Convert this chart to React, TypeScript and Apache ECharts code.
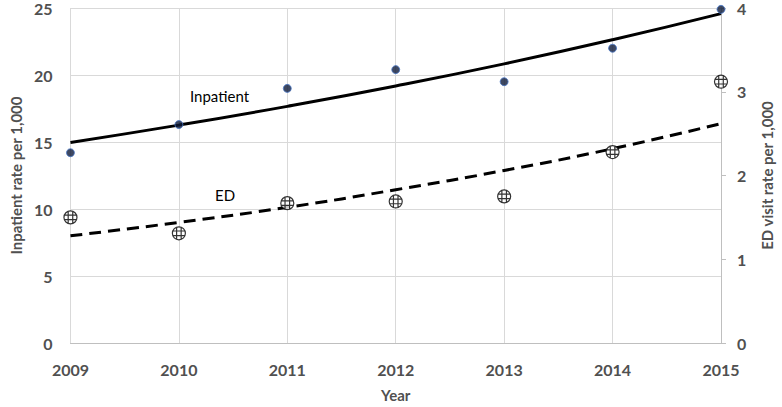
import React, { useEffect, useRef } from "react";
import * as echarts from "echarts";

const years = ["2009", "2010", "2011", "2012", "2013", "2014", "2015"];
const inpatientRate = [14.2, 16.3, 19.0, 20.4, 19.5, 22.0, 24.9];
const edRate = [1.5, 1.31, 1.67, 1.69, 1.75, 2.28, 3.12];
const inpatientTrend = [14.97, 16.26, 17.66, 19.18, 20.83, 22.63, 24.58];
const edTrend = [1.28, 1.44, 1.62, 1.83, 2.06, 2.32, 2.62];
const leftTicks = [0, 5, 10, 15, 20, 25];
const rightTicks = [0, 1, 2, 3, 4];

const hatchSymbol =
  "path://M0,10 A10,10 0 1,1 20,10 A10,10 0 1,1 0,10 Z M6.5,0.8 L6.5,19.2 M13.5,0.8 L13.5,19.2 M0.8,6.5 L19.2,6.5 M0.8,13.5 L19.2,13.5";

const FONT = "Lato, 'Open Sans', sans-serif";
const LABEL = "#505050";

export default function App() {
  const ref = useRef<HTMLDivElement>(null);
  useEffect(() => {
    if (!ref.current) return;
    const chart = echarts.init(ref.current, undefined, { renderer: "svg" });
    chart.setOption({
      animation: false,
      backgroundColor: "#ffffff",
      textStyle: { fontFamily: FONT },
      grid: { left: 58, right: 52, top: 7, bottom: 59, containLabel: false },
      xAxis: {
        type: "category",
        data: years,
        boundaryGap: false,
        name: "Year",
        nameLocation: "middle",
        nameGap: 44,
        nameTextStyle: { fontFamily: FONT, fontWeight: "bold", fontSize: 15, color: LABEL },
        axisLine: { show: true, lineStyle: { color: "#bfbfbf", width: 1 } },
        axisTick: { show: false },
        axisLabel: { margin: 18, fontFamily: FONT, fontWeight: "bold", fontSize: 16, color: LABEL },
        splitLine: { show: true, lineStyle: { color: "#d9d9d9", width: 1 } },
      },
      yAxis: [
        {
          type: "value",
          min: leftTicks[0],
          max: leftTicks[leftTicks.length - 1],
          interval: 5,
          name: "Inpatient rate per 1,000",
          nameLocation: "middle",
          nameGap: 43,
          nameTextStyle: { fontFamily: FONT, fontWeight: "bold", fontSize: 15, color: LABEL },
          axisLine: { show: false },
          axisTick: { show: false },
          axisLabel: { margin: 18, fontFamily: FONT, fontWeight: "bold", fontSize: 16, color: LABEL },
          splitLine: { show: true, lineStyle: { color: "#d9d9d9", width: 1 } },
        },
        {
          type: "value",
          position: "right",
          min: rightTicks[0],
          max: rightTicks[rightTicks.length - 1],
          interval: 1,
          name: "ED visit rate per 1,000",
          nameLocation: "middle",
          nameGap: 38,
          nameRotate: 90,
          nameTextStyle: { fontFamily: FONT, fontWeight: "bold", fontSize: 15, color: LABEL },
          axisLine: { show: true, lineStyle: { color: "#bfbfbf", width: 1 } },
          axisTick: { show: true, length: 5, lineStyle: { color: "#bfbfbf" } },
          axisLabel: { margin: 16, fontFamily: FONT, fontWeight: "bold", fontSize: 16, color: LABEL },
          splitLine: { show: false },
        },
      ],
      series: [
        {
          name: "Inpatient trend",
          type: "line",
          data: inpatientTrend,
          smooth: true,
          showSymbol: false,
          symbol: "none",
          lineStyle: { color: "#000000", width: 3 },
          z: 2,
        },
        {
          name: "ED trend",
          type: "line",
          yAxisIndex: 1,
          data: edTrend,
          smooth: true,
          showSymbol: false,
          symbol: "none",
          lineStyle: { color: "#000000", width: 3, type: [12, 7] },
          z: 2,
        },
        {
          name: "Inpatient",
          type: "scatter",
          data: inpatientRate,
          symbol: "circle",
          symbolSize: 8,
          itemStyle: { color: "#0e1a3a", borderColor: "#4a78c8", borderWidth: 1 },
          z: 5,
        },
        {
          name: "ED",
          type: "scatter",
          yAxisIndex: 1,
          data: edRate,
          symbol: hatchSymbol,
          symbolSize: 13,
          itemStyle: { color: "#ffffff", borderColor: "#000000", borderWidth: 1.2 },
          z: 5,
        },
      ],
      graphic: [
        {
          type: "text",
          left: 190,
          top: 88,
          style: { text: "Inpatient", fontFamily: FONT, fontSize: 15, fill: "#000000" },
        },
        {
          type: "text",
          left: 215,
          top: 187,
          style: { text: "ED", fontFamily: FONT, fontSize: 15, fill: "#000000" },
        },
      ],
    });
    return () => chart.dispose();
  }, []);
  return <div ref={ref} style={{ width: 782, height: 407, position: "absolute", left: 0, top: 0 }} />;
}
